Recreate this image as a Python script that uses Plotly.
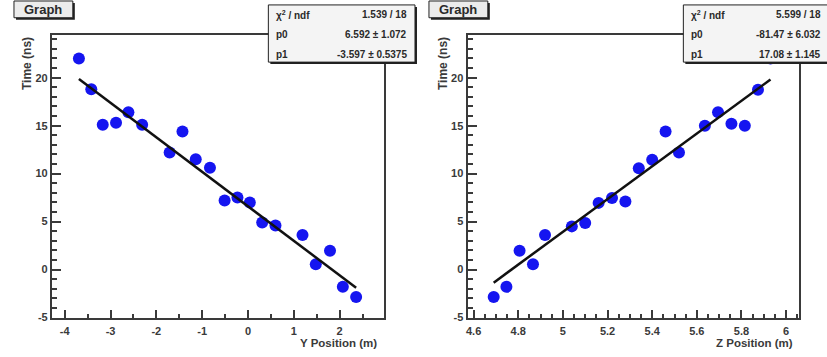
import plotly.graph_objects as go
from plotly.subplots import make_subplots

W, H = 827, 357

# left graph: Time vs Y position
y_pos = [-3.69, -3.42, -3.17, -2.88, -2.61, -2.31, -1.71, -1.43, -1.14, -0.83,
         -0.51, -0.23, 0.04, 0.31, 0.60, 1.19, 1.48, 1.79, 2.07, 2.36]
time_y = [22.0, 18.8, 15.1, 15.3, 16.4, 15.1, 12.2, 14.4, 11.5, 10.6,
          7.2, 7.5, 7.0, 4.9, 4.6, 3.6, 0.55, 1.95, -1.8, -2.85]
fit_y = {"chi2": "1.539 / 18", "p0": 6.592, "p0_err": "1.072", "p1": -3.597, "p1_err": "0.5375"}

# right graph: Time vs Z position (last point sits under the stats box)
z_pos = [4.69, 4.747, 4.806, 4.866, 4.92, 5.04, 5.10, 5.16, 5.22, 5.28,
         5.34, 5.40, 5.46, 5.52, 5.636, 5.695, 5.755, 5.815, 5.874, 5.93]
time_z = [-2.85, -1.8, 1.95, 0.55, 3.6, 4.5, 4.85, 6.95, 7.45, 7.1,
          10.55, 11.45, 14.4, 12.2, 15.0, 16.4, 15.2, 15.0, 18.75, 22.0]
fit_z = {"chi2": "5.599 / 18", "p0": -81.47, "p0_err": "6.032", "p1": 17.08, "p1_err": "1.145"}

y_ticks = [-4, -3, -2, -1, 0, 1, 2]
z_ticks = [4.6, 4.8, 5.0, 5.2, 5.4, 5.6, 5.8, 6.0]
t_ticks = [-5, 0, 5, 10, 15, 20]

FONT = "Liberation Sans, Arial, sans-serif"
AX = "#3a3a3a"


def px(x):
    return x / W


def py(y):
    return 1 - y / H


fig = make_subplots(rows=1, cols=2)

for col, xs, ts, fit in [(1, y_pos, time_y, fit_y), (2, z_pos, time_z, fit_z)]:
    fig.add_trace(go.Scatter(x=xs, y=ts, mode="markers",
                             marker=dict(color="#1515f0", size=12, line=dict(width=0)),
                             showlegend=False), row=1, col=col)
    x0, x1 = min(xs), max(xs)
    fig.add_trace(go.Scatter(x=[x0, x1], y=[fit["p0"] + fit["p1"] * x0, fit["p0"] + fit["p1"] * x1],
                             mode="lines", line=dict(color="#111111", width=2.5),
                             showlegend=False), row=1, col=col)


def fmt(v):
    return "%g" % v


axis_common = dict(showline=True, mirror=True, linecolor=AX, linewidth=2,
                   ticks="inside", tickcolor=AX, tickwidth=1.5, showgrid=False,
                   zeroline=False,
                   tickfont=dict(family=FONT, size=11, color="#3a3a3a", weight="bold"))

fig.update_xaxes(domain=[px(50), px(383)], range=[-4.28, 2.97], tickmode="array",
                 tickvals=y_ticks, ticktext=[fmt(v) for v in y_ticks], ticklen=8,
                 ticklabelstandoff=1,
                 minor=dict(tickmode="linear", tick0=0, dtick=0.5, ticklen=4, ticks="inside",
                            tickcolor=AX, tickwidth=1.5),
                 **axis_common, row=1, col=1)
fig.update_xaxes(domain=[px(466.7), px(799)], range=[4.573, 6.058], tickmode="array",
                 tickvals=z_ticks, ticktext=[fmt(v) for v in z_ticks], ticklen=8,
                 ticklabelstandoff=1,
                 minor=dict(tickmode="linear", tick0=4.6, dtick=0.05, ticklen=4, ticks="inside",
                            tickcolor=AX, tickwidth=1.5),
                 **axis_common, row=1, col=2)
for col in (1, 2):
    fig.update_yaxes(domain=[py(323), py(35)], range=[-5.1, 24.5], tickmode="array",
                     tickvals=t_ticks, ticktext=[fmt(v) for v in t_ticks], ticklen=9,
                     minor=dict(tickmode="linear", tick0=0, dtick=1, ticklen=5, ticks="inside",
                                tickcolor=AX, tickwidth=1.5),
                     **axis_common, row=1, col=col)

shapes = []
annotations = []


def box(x0, y0, x1, y1, fill):
    # ROOT style box with drop shadow
    shapes.append(dict(type="rect", xref="paper", yref="paper", x0=px(x0 + 2), x1=px(x1 + 2),
                       y0=py(y1 + 2), y1=py(y0 + 2), fillcolor="#222", line=dict(width=0),
                       layer="above"))
    shapes.append(dict(type="rect", xref="paper", yref="paper", x0=px(x0), x1=px(x1),
                       y0=py(y1), y1=py(y0), fillcolor=fill, line=dict(color="#222", width=1),
                       layer="above"))


def text(x, y, s, anchor="left", size=11, bold=True, angle=0, color="#2a2a2a"):
    annotations.append(dict(x=px(x), y=py(y), xref="paper", yref="paper", text=s,
                            showarrow=False, xanchor=anchor, yanchor="middle", textangle=angle,
                            font=dict(family=FONT, size=size, color=color,
                                      weight="bold" if bold else "normal")))


for gx, sx, fit, sx1 in [(12, 267, fit_y, 414), (428, 683, fit_z, 829)]:
    box(gx, 1, gx + 59, 18, "#ececec")
    text(gx + 29.5, 9.5, "Graph", anchor="center", size=13)
    box(sx, 5, sx1, 63, "#f4f4f4")
    rows = [("χ<sup>2</sup> / ndf", fit["chi2"]),
            ("p0", "%s ± %s" % (fit["p0"], fit["p0_err"])),
            ("p1", "%s ± %s" % (fit["p1"], fit["p1_err"]))]
    for i, (lab, val) in enumerate(rows):
        yy = 15 + i * 20
        text(sx + 6, yy, lab, size=10)
        text(min(sx1 - 6, 825), yy, val, anchor="right", size=10)

text(25, 64, "Time (ns)", anchor="center", size=12, angle=-90, color="#3a3a3a")
text(442, 64, "Time (ns)", anchor="center", size=12, angle=-90, color="#3a3a3a")
text(378, 348, "Y Position (m)", anchor="right", size=11.5, color="#3a3a3a")
text(795, 348, "Z Position (m)", anchor="right", size=11.5, color="#3a3a3a")

fig.update_layout(width=W, height=H, margin=dict(l=0, r=0, t=0, b=0),
                  paper_bgcolor="white", plot_bgcolor="white",
                  shapes=shapes, annotations=annotations)

# drop the browser's default body margin so the figure starts at the window corner
fig.write_html("out.html", config={"displayModeBar": False},
               post_script="document.body.style.margin='0';")
